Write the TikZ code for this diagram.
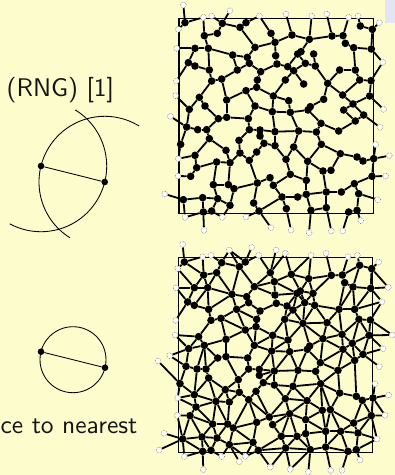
\documentclass[tikz,border=0pt]{standalone}
\definecolor{slidebg}{RGB}{252,252,204}
\definecolor{navbox}{RGB}{227,229,243}
\definecolor{txt}{RGB}{20,20,20}
\pgfdeclarelayer{back}
\pgfdeclarelayer{mid}
\pgfsetlayers{back,mid,main}
\tikzset{
  blackpt/.style={circle,fill=black,inner sep=0pt,minimum size=7.6pt},
  whitept/.style={circle,fill=white,draw=black!55,densely dotted,line width=0.6pt,inner sep=0pt,minimum size=5.8pt},
  graphedge/.style={line width=1.8pt,black},
  framebox/.style={line width=1.1pt,black},
  dotpt/.style={circle,fill=black,inner sep=0pt,minimum size=6.6pt},
  thinline/.style={line width=0.85pt,black},
  slidetext/.style={inner sep=0pt,text=txt}
}
% ---------- point set (coordinates in 1/3 px units) ----------
\newcount\gN \newcount\gI \newcount\gJ \newcount\gK
\newcount\gAX \newcount\gAY \newcount\gBX \newcount\gBY
\newcount\gDij \newcount\gDik \newcount\gDjk \newcount\gTX \newcount\gTY
\newif\ifgkeep \newif\ifgrng
\def\addpt#1#2#3{\global\advance\gN1
  \expandafter\xdef\csname X\the\gN\endcsname{#1}%
  \expandafter\xdef\csname Y\the\gN\endcsname{#2}%
  \expandafter\xdef\csname W\the\gN\endcsname{#3}}
% black points
\addpt{75}{68}{0}\addpt{187}{70}{0}\addpt{240}{82}{0}\addpt{258}{68}{0}
\addpt{133}{107}{0}\addpt{172}{100}{0}\addpt{333}{100}{0}\addpt{396}{105}{0}
\addpt{448}{118}{0}\addpt{516}{108}{0}\addpt{549}{107}{0}\addpt{601}{78}{0}
\addpt{637}{88}{0}\addpt{105}{145}{0}\addpt{145}{145}{0}\addpt{218}{165}{0}
\addpt{262}{172}{0}\addpt{285}{142}{0}\addpt{345}{127}{0}\addpt{347}{167}{0}
\addpt{556}{130}{0}\addpt{581}{143}{0}\addpt{634}{147}{0}\addpt{423}{155}{0}
\addpt{413}{162}{0}\addpt{461}{162}{0}\addpt{85}{188}{0}\addpt{105}{198}{0}
\addpt{268}{190}{0}\addpt{232}{210}{0}\addpt{351}{192}{0}\addpt{383}{200}{0}
\addpt{401}{212}{0}\addpt{436}{190}{0}\addpt{466}{198}{0}\addpt{148}{210}{0}
\addpt{302}{215}{0}\addpt{539}{210}{0}\addpt{586}{210}{0}\addpt{155}{243}{0}
\addpt{185}{237}{0}\addpt{292}{240}{0}\addpt{376}{240}{0}\addpt{431}{252}{0}
\addpt{503}{250}{0}\addpt{599}{240}{0}\addpt{633}{242}{0}\addpt{258}{272}{0}
\addpt{290}{262}{0}\addpt{118}{292}{0}\addpt{200}{300}{0}\addpt{340}{288}{0}
\addpt{386}{302}{0}\addpt{491}{298}{0}\addpt{548}{285}{0}\addpt{629}{288}{0}
\addpt{135}{318}{0}\addpt{285}{318}{0}\addpt{451}{320}{0}\addpt{444}{330}{0}
\addpt{579}{312}{0}\addpt{551}{330}{0}\addpt{88}{328}{0}\addpt{200}{352}{0}
\addpt{175}{356}{0}\addpt{265}{356}{0}\addpt{337}{335}{0}\addpt{391}{337}{0}
\addpt{611}{345}{0}\addpt{586}{363}{0}\addpt{483}{370}{0}\addpt{536}{393}{0}
\addpt{80}{381}{0}\addpt{113}{389}{0}\addpt{140}{389}{0}\addpt{268}{389}{0}
\addpt{300}{390}{0}\addpt{300}{408}{0}\addpt{345}{395}{0}\addpt{416}{393}{0}
\addpt{469}{396}{0}\addpt{148}{416}{0}\addpt{62}{433}{0}\addpt{237}{421}{0}
\addpt{312}{430}{0}\addpt{345}{437}{0}\addpt{401}{441}{0}\addpt{484}{433}{0}
\addpt{198}{451}{0}\addpt{240}{459}{0}\addpt{290}{456}{0}\addpt{105}{466}{0}
\addpt{378}{478}{0}\addpt{443}{484}{0}\addpt{541}{461}{0}\addpt{591}{471}{0}
\addpt{609}{483}{0}\addpt{641}{476}{0}\addpt{170}{486}{0}\addpt{210}{488}{0}
\addpt{268}{481}{0}\addpt{110}{503}{0}\addpt{391}{523}{0}\addpt{330}{533}{0}
\addpt{489}{513}{0}\addpt{513}{511}{0}\addpt{92}{529}{0}\addpt{292}{549}{0}
\addpt{439}{541}{0}\addpt{583}{551}{0}\addpt{636}{529}{0}\addpt{160}{554}{0}
\addpt{205}{554}{0}\addpt{222}{566}{0}\addpt{340}{556}{0}\addpt{70}{599}{0}
\addpt{128}{593}{0}\addpt{173}{596}{0}\addpt{210}{616}{0}\addpt{281}{609}{0}
\addpt{366}{591}{0}\addpt{413}{591}{0}\addpt{439}{583}{0}\addpt{499}{576}{0}
\addpt{544}{576}{0}\addpt{596}{581}{0}\addpt{130}{636}{0}\addpt{155}{633}{0}
\addpt{297}{633}{0}\addpt{379}{626}{0}\addpt{453}{631}{0}\addpt{499}{623}{0}
\addpt{566}{636}{0}\addpt{591}{631}{0}
% white (outside) points
\addpt{70}{15}{1}\addpt{55}{88}{1}\addpt{130}{52}{1}\addpt{155}{48}{1}
\addpt{210}{32}{1}\addpt{277}{24}{1}\addpt{298}{48}{1}\addpt{350}{32}{1}
\addpt{378}{42}{1}\addpt{455}{48}{1}\addpt{500}{42}{1}\addpt{566}{52}{1}
\addpt{594}{48}{1}\addpt{658}{68}{1}\addpt{50}{145}{1}\addpt{687}{144}{1}
\addpt{668}{187}{1}\addpt{-4}{209}{1}\addpt{49}{243}{1}\addpt{47}{287}{1}
\addpt{699}{287}{1}\addpt{671}{328}{1}\addpt{31}{349}{1}\addpt{-4}{365}{1}
\addpt{660}{382}{1}\addpt{647}{433}{1}\addpt{688}{467}{1}\addpt{55}{476}{1}
\addpt{54}{528}{1}\addpt{677}{528}{1}\addpt{14}{582}{1}\addpt{-1}{632}{1}
\addpt{653}{599}{1}\addpt{75}{652}{1}\addpt{187}{652}{1}\addpt{240}{667}{1}
\addpt{258}{651}{1}\addpt{132}{691}{1}\addpt{333}{683}{1}\addpt{393}{690}{1}
\addpt{447}{698}{1}\addpt{514}{693}{1}\addpt{548}{693}{1}\addpt{602}{662}{1}
% ---------- RNG / Gabriel graph computation ----------
\def\gkloop{%
  \advance\gK1
  \ifnum\gK>\gN
    \let\gknext\relax
  \else
    \ifnum\gK=\gI\else\ifnum\gK=\gJ\else
      \gTX=\numexpr\csname X\the\gK\endcsname-\gAX\relax
      \gTY=\numexpr\csname Y\the\gK\endcsname-\gAY\relax
      \gDik=\numexpr\gTX*\gTX+\gTY*\gTY\relax
      \gTX=\numexpr\csname X\the\gK\endcsname-\gBX\relax
      \gTY=\numexpr\csname Y\the\gK\endcsname-\gBY\relax
      \gDjk=\numexpr\gTX*\gTX+\gTY*\gTY\relax
      \ifgrng
        \ifnum\gDik<\gDij \ifnum\gDjk<\gDij \gkeepfalse\fi\fi
      \else
        \ifnum\numexpr\gDik+\gDjk\relax<\gDij \gkeepfalse\fi
      \fi
    \fi\fi
    \ifgkeep\let\gknext\gkloop\else\let\gknext\relax\fi
  \fi
  \gknext}
\def\gpairtest{%
  \ifnum\numexpr\csname W\the\gI\endcsname+\csname W\the\gJ\endcsname\relax<2
    \gBX=\csname X\the\gJ\endcsname\relax
    \gBY=\csname Y\the\gJ\endcsname\relax
    \gTX=\numexpr\gBX-\gAX\relax
    \gTY=\numexpr\gBY-\gAY\relax
    \gDij=\numexpr\gTX*\gTX+\gTY*\gTY\relax
    \ifnum\gDij<25000
      \gkeeptrue \gK=0
      \gkloop
      \ifgkeep
        \xdef\gedgelist{\unexpanded\expandafter{\gedgelist}\noexpand\draw[graphedge] (\gPfx\the\gI) -- (\gPfx\the\gJ);}%
        \expandafter\gdef\csname U\gPfx\the\gI\endcsname{}%
        \expandafter\gdef\csname U\gPfx\the\gJ\endcsname{}%
      \fi
    \fi
  \fi}
\def\gjloop{%
  \advance\gJ1
  \ifnum\gJ>\gN\else
    \gpairtest
    \expandafter\gjloop
  \fi}
\def\giloop{%
  \advance\gI1
  \ifnum\gI<\gN
    \gAX=\csname X\the\gI\endcsname\relax
    \gAY=\csname Y\the\gI\endcsname\relax
    \gJ=\gI
    \gjloop
    \expandafter\giloop
  \fi}
\newcommand\computegraph[1]{\def\gPfx{#1}\gdef\gedgelist{}\gI=0 \giloop}
\grngtrue\computegraph{t}\global\let\edgesT\gedgelist
\grngfalse\computegraph{b}\global\let\edgesB\gedgelist
\edef\gNum{\the\gN}
\newcommand\drawgraphnodes[1]{%
  \foreach \i in {1,...,\gNum}{%
    \edef\gx{\csname X\i\endcsname}\edef\gy{\csname Y\i\endcsname}%
    \ifnum\csname W\i\endcsname=0
      \node[blackpt] (#1\i) at (\gx,\gy) {};
    \else
      \ifcsname U#1\i\endcsname
        \node[whitept] (#1\i) at (\gx,\gy) {};
      \fi
    \fi
  }}
\begin{document}
\begin{tikzpicture}[x=1pt,y=-1pt]
\useasboundingbox (0,0) rectangle (395,475);
\begin{pgfonlayer}{back}
  \fill[slidebg] (0,0) rectangle (395,475);
  \fill[navbox] (384.5,0) rectangle (395,23);
\end{pgfonlayer}
% texts
\node[slidetext,anchor=base west] (rngtitle) at (6.5,96.3) {\scalebox{2.55}{\sffamily (RNG) [1]}};
\node[slidetext,anchor=base east] (gabtext) at (137.5,433.5) {\scalebox{2.55}{\sffamily ce to nearest}};
% lune (RNG condition)
\node[dotpt] (la) at (41,166) {};
\node[dotpt] (lb) at (104.7,182) {};
\draw[thinline] (la) -- (lb);
\draw[thinline] (la.center) ++(58.7:65.7pt) arc[start angle=58.7,end angle=-118.4,radius=65.7pt];
\draw[thinline] (lb.center) ++(58.4:65.7pt) arc[start angle=58.4,end angle=238,radius=65.7pt];
% diametral circle (Gabriel condition)
\node[dotpt] (ga) at (41,351.7) {};
\node[dotpt] (gb) at (105,367.7) {};
\coordinate (gc) at (73,359.7);
\draw[thinline] (gc) circle[radius=33pt];
\draw[thinline] (ga) -- (gb);
% relative neighbourhood graph
\begin{scope}[xshift=160pt,x=0.333333pt,y=-0.333333pt]
  \drawgraphnodes{t}
  \begin{pgfonlayer}{mid}
    \draw[framebox] (57,55) rectangle (640,640);
    \edgesT
  \end{pgfonlayer}
\end{scope}
% Gabriel graph
\begin{scope}[xshift=159.33pt,yshift=-239.33pt,x=0.333333pt,y=-0.333333pt]
  \drawgraphnodes{b}
  \begin{pgfonlayer}{mid}
    \draw[framebox] (57,55) rectangle (640,640);
    \edgesB
  \end{pgfonlayer}
\end{scope}
\end{tikzpicture}
\end{document}
